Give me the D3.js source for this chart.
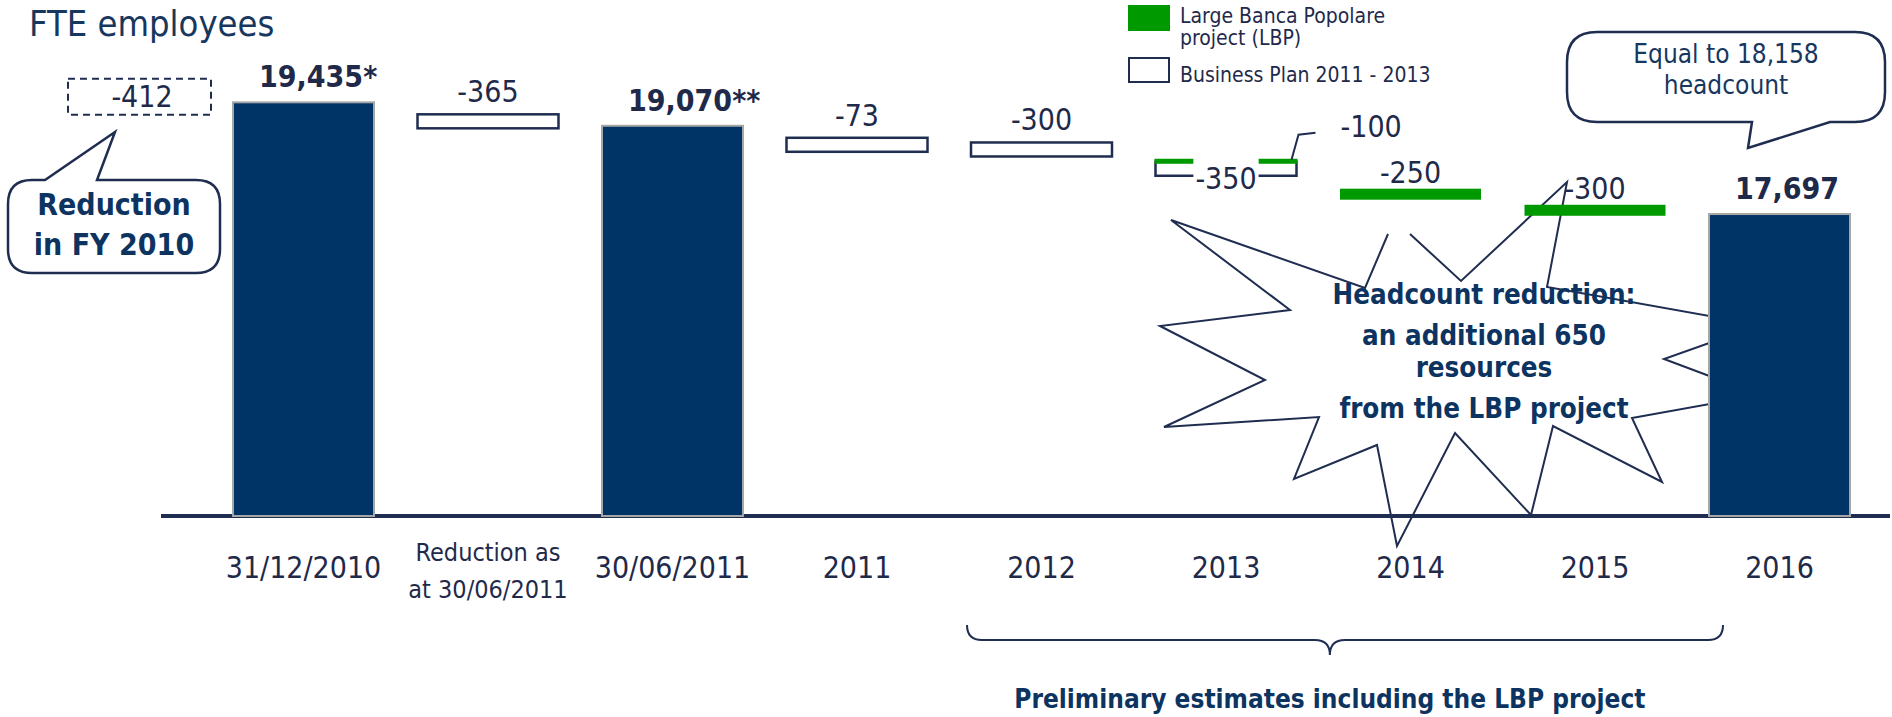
<!DOCTYPE html>
<html><head><meta charset="utf-8">
<script src="https://cdn.jsdelivr.net/npm/d3@7/dist/d3.min.js"></script>
<style>
html,body{margin:0;padding:0;background:#fff;}
svg{display:block;}
text{font-family:"DejaVu Sans Condensed","DejaVu Sans",sans-serif;}
</style></head><body>
<svg id="chart" width="1892" height="717"></svg>
<script>
// ---------- data ----------
const categories = ["31/12/2010","Reduction as at 30/06/2011","30/06/2011","2011","2012","2013","2014","2015","2016"];
const tickLabels = [["31/12/2010"],["Reduction as","at 30/06/2011"],["30/06/2011"],["2011"],["2012"],["2013"],["2014"],["2015"],["2016"]];
const totalCats = ["31/12/2010","30/06/2011","2016"];
const totalValues = [19435, 19070, 17697];
const totalLabels = ["19,435*","19,070**","17,697"];
const stepCats = ["Reduction as at 30/06/2011","2011","2012","2013","2014","2015"];
const bpValues  = [-365, -73, -300, -350, 0, 0];     // Business Plan 2011-2013
const lbpValues = [0, 0, 0, -100, -250, -300];       // Large Banca Popolare project
const priorReduction = -412;
const legendLabels = [["Large Banca Popolare","project (LBP)"],["Business Plan 2011 - 2013"]];

// ---------- style ----------
const NAVY = "#1f2a4a", STROKE = "#1f2d50", BAR = "#003366", GREEN = "#009900", BLUE = "#0d3461", TITLE = "#17375e";

const svg = d3.select("#chart");
const x = d3.scaleBand().domain(categories).range([233, 1850]).paddingInner(0.2358).paddingOuter(0);
const y = d3.scaleLinear().domain([13000, 20000]).range([516, 66]);
const y0 = y.range()[0];
const bw = x.bandwidth();

// title
svg.append("text").attr("x", 29).attr("y", 36).attr("font-size", 36).attr("fill", TITLE).text("FTE employees");

// ---------- starburst (annotation) ----------
const burst = [[1410,234],[1461,281],[1567,182],[1547,287],[1760,325],[1664,359],[1760,395],[1632,418],[1662,482],[1553,426],[1531,515],[1455,433],[1397,546],[1377,445],[1294,479],[1319,417],[1164,427],[1265,380],[1160,326],[1290,310],[1171,220],[1365,288],[1388,234]];
svg.append("path").attr("d", d3.line()(burst)).attr("fill", "none").attr("stroke", STROKE).attr("stroke-width", 2);
const burstText = ["Headcount reduction:","an additional 650","resources","from the LBP project"];
const burstY = [304, 345, 377, 418];
svg.selectAll("text.burst").data(burstText).join("text").attr("class","burst")
  .attr("x", 1484).attr("y", (d,i)=>burstY[i]).attr("text-anchor","middle")
  .attr("font-size", 27.5).attr("font-weight","bold").attr("fill", BLUE).text(d=>d);

// ---------- axis ----------
svg.append("line").attr("x1", x(categories[0]) - 72).attr("x2", 1890).attr("y1", y0).attr("y2", y0)
  .attr("stroke", STROKE).attr("stroke-width", 4);
const axis = svg.append("g").attr("transform", `translate(0,${y0})`).call(d3.axisBottom(x).tickSize(0));
axis.select(".domain").remove();
axis.selectAll(".tick text").each(function(d){
  const i = categories.indexOf(d);
  const lines = tickLabels[i];
  const t = d3.select(this).text(null).attr("dy", null).attr("y", null)
    .attr("fill", NAVY).attr("font-family", null);
  if (lines.length === 1) {
    t.attr("font-size", 30).append("tspan").attr("x", 0).attr("y", 62).text(lines[0]);
  } else {
    t.attr("font-size", 25);
    lines.forEach((l,k)=> t.append("tspan").attr("x", 0).attr("y", 45 + k*37).text(l));
  }
});

// ---------- total bars ----------
const totals = totalCats.map((c,i)=>({cat:c, v:totalValues[i], label:totalLabels[i]}));
svg.selectAll("rect.total").data(totals).join("rect").attr("class","total")
  .attr("x", d=>x(d.cat)).attr("y", d=>y(d.v)).attr("width", bw).attr("height", d=>y0 - y(d.v))
  .attr("fill", BAR).attr("stroke", "#a6a6a6").attr("stroke-width", 2);
svg.selectAll("text.total").data(totals).join("text").attr("class","total")
  .attr("x", d=>x(d.cat) + 26).attr("y", d=>y(d.v) - 15)
  .attr("font-size", 30).attr("font-weight","bold").attr("fill", NAVY).text(d=>d.label);

// ---------- floating steps ----------
let level = totalValues[0];
const bpMarks = [], lbpMarks = [];
stepCats.forEach((c,i)=>{
  if (bpValues[i]) { bpMarks.push({cat:c, start:level, v:bpValues[i], hasLbp: !!lbpValues[i]}); level += bpValues[i]; }
  if (lbpValues[i]) { lbpMarks.push({cat:c, start:level, v:lbpValues[i], stacked: !!bpValues[i], bpStart: level - bpValues[i]}); level += lbpValues[i]; }
});
const BPH = 14, LBPH = 11, OFF = 12;
bpMarks.forEach(d=>{
  const top = y(d.start) + OFF;
  svg.append("rect").attr("x", x(d.cat)).attr("y", top).attr("width", bw).attr("height", BPH)
    .attr("fill", "#fff").attr("stroke", STROKE).attr("stroke-width", 2.5);
  d.top = top;
});
lbpMarks.forEach(d=>{
  if (d.stacked) {
    const top = y(d.bpStart) + OFF;
    svg.append("rect").attr("x", x(d.cat) - 1).attr("y", top - 3).attr("width", bw + 2).attr("height", 5).attr("fill", GREEN);
  } else {
    const top = y(d.start) + OFF - 2;
    svg.append("rect").attr("x", x(d.cat)).attr("y", top).attr("width", bw).attr("height", LBPH).attr("fill", GREEN);
    svg.append("text").attr("x", x(d.cat) + bw/2).attr("y", top - 6).attr("text-anchor","middle")
      .attr("font-size", 30).attr("fill", NAVY).text(d.v);
  }
});
bpMarks.forEach(d=>{
  const cx = x(d.cat) + bw/2;
  if (d.hasLbp) {
    const t = svg.append("text").attr("x", cx).attr("y", d.top + BPH + 13).attr("text-anchor","middle")
      .attr("font-size", 30).attr("fill", NAVY).text(d.v);
    const bb = t.node().getBBox();
    svg.insert("rect", () => t.node()).attr("x", bb.x - 2).attr("y", d.top - 5).attr("width", bb.width + 4)
      .attr("height", bb.y + bb.height - d.top + 5).attr("fill", "#fff");
    const l = lbpMarks.find(m=>m.cat===d.cat);
    const rx = x(d.cat) + bw, ty = d.top - 3;
    svg.append("path").attr("d", d3.line()([[rx-5, ty+1],[rx+2, ty-24],[rx+19, ty-26]]))
      .attr("fill","none").attr("stroke", STROKE).attr("stroke-width", 2);
    svg.append("text").attr("x", rx + 44).attr("y", ty - 22).attr("font-size", 30).attr("fill", NAVY).text(l.v);
  } else {
    svg.append("text").attr("x", cx).attr("y", d.top - 12).attr("text-anchor","middle")
      .attr("font-size", 30).attr("fill", NAVY).text(d.v);
  }
});

// prior reduction (dashed)
const pTop = y(totalValues[0] - priorReduction) + 3;
const pX = x(categories[0]) - 165;
svg.append("rect").attr("x", pX).attr("y", pTop).attr("width", 143).attr("height", 36)
  .attr("fill","none").attr("stroke", STROKE).attr("stroke-width", 2).attr("stroke-dasharray","7,5");
svg.append("text").attr("x", pX + 74).attr("y", pTop + 28).attr("text-anchor","middle")
  .attr("font-size", 30).attr("fill", NAVY).text(priorReduction);

// ---------- callouts ----------
function callout(x0, y0c, x1, y1, r, ptr, side) {
  const p = d3.path();
  p.moveTo(x0 + r, y0c);
  if (side === "top") { p.lineTo(ptr[0], y0c); p.lineTo(ptr[2], ptr[3]); p.lineTo(ptr[1], y0c); }
  p.lineTo(x1 - r, y0c); p.quadraticCurveTo(x1, y0c, x1, y0c + r);
  p.lineTo(x1, y1 - r); p.quadraticCurveTo(x1, y1, x1 - r, y1);
  if (side === "bottom") { p.lineTo(ptr[0], y1); p.lineTo(ptr[2], ptr[3]); p.lineTo(ptr[1], y1); }
  p.lineTo(x0 + r, y1); p.quadraticCurveTo(x0, y1, x0, y1 - r);
  p.lineTo(x0, y0c + r); p.quadraticCurveTo(x0, y0c, x0 + r, y0c);
  p.closePath();
  return p.toString();
}
svg.append("path").attr("d", callout(8, 180, 220, 273, 24, [45, 97, 115, 132], "top"))
  .attr("fill","#fff").attr("stroke", STROKE).attr("stroke-width", 2.5);
svg.append("text").attr("x", 114).attr("y", 215).attr("text-anchor","middle").attr("font-size", 30)
  .attr("font-weight","bold").attr("fill", BLUE).text("Reduction");
svg.append("text").attr("x", 114).attr("y", 255).attr("text-anchor","middle").attr("font-size", 30)
  .attr("font-weight","bold").attr("fill", BLUE).text("in FY 2010");

svg.append("path").attr("d", callout(1567, 32, 1885, 122, 30, [1830, 1752, 1748, 148], "bottom"))
  .attr("fill","#fff").attr("stroke", STROKE).attr("stroke-width", 2.5);
svg.append("text").attr("x", 1726).attr("y", 63).attr("text-anchor","middle").attr("font-size", 26)
  .attr("fill", TITLE).text("Equal to 18,158");
svg.append("text").attr("x", 1726).attr("y", 94).attr("text-anchor","middle").attr("font-size", 26)
  .attr("fill", TITLE).text("headcount");

// ---------- legend ----------
svg.append("rect").attr("x", 1128).attr("y", 5).attr("width", 42).attr("height", 26).attr("fill", GREEN);
svg.append("rect").attr("x", 1129).attr("y", 58).attr("width", 40).attr("height", 24).attr("fill", "#fff")
  .attr("stroke", STROKE).attr("stroke-width", 2);
legendLabels[0].forEach((l,k)=> svg.append("text").attr("x", 1180).attr("y", 23 + k*22).attr("font-size", 21).attr("fill", NAVY).text(l));
svg.append("text").attr("x", 1180).attr("y", 82).attr("font-size", 21).attr("fill", NAVY).text(legendLabels[1][0]);

// ---------- brace + note ----------
const bx0 = x("2012") - 4, bx1 = x("2016") + 14, bm = bx0 + 0.48 * (bx1 - bx0);
const br = d3.path();
br.moveTo(bx0, 625); br.quadraticCurveTo(bx0, 640, bx0 + 15, 640); br.lineTo(bm - 15, 640);
br.quadraticCurveTo(bm, 640, bm, 655); br.quadraticCurveTo(bm, 640, bm + 15, 640);
br.lineTo(bx1 - 15, 640); br.quadraticCurveTo(bx1, 640, bx1, 625);
svg.append("path").attr("d", br.toString()).attr("fill","none").attr("stroke", STROKE).attr("stroke-width", 2);
svg.append("text").attr("x", bm).attr("y", 708).attr("text-anchor","middle").attr("font-size", 26)
  .attr("font-weight","bold").attr("fill", BLUE).text("Preliminary estimates including the LBP project");
</script>
</body></html>
